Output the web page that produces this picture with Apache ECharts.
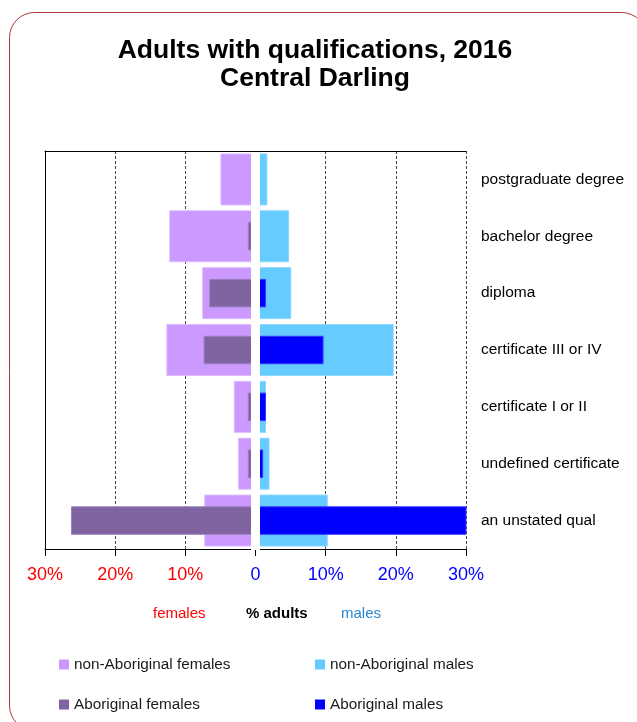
<!DOCTYPE html>
<html>
<head>
<meta charset="utf-8">
<title>Adults with qualifications, 2016 - Central Darling</title>
<script src="https://cdn.jsdelivr.net/npm/echarts@6/dist/echarts.min.js"></script>
<style>
  html, body { margin: 0; padding: 0; background: #ffffff; }
  #chart { width: 637px; height: 722px; }
</style>
</head>
<body>
<div id="chart"></div>
<script>
// Qualification levels, top to bottom
const categories = [
  'postgraduate degree',
  'bachelor degree',
  'diploma',
  'certificate III or IV',
  'certificate I or II',
  'undefined certificate',
  'an unstated qual'
];

// Percent of adults in each group
const nonAboriginalFemales = [5.0, 12.3, 7.6, 12.7, 3.1, 2.5, 7.3];
const aboriginalFemales    = [0.0, 1.1, 6.6, 7.4, 1.1, 1.1, 26.3];
const nonAboriginalMales   = [1.7, 4.8, 5.1, 19.7, 1.5, 2.0, 10.3];
const aboriginalMales      = [0.0, 0.0, 1.5, 9.7, 1.5, 1.1, 30.2];

// Percent scale on the shared axis (females to the left)
const axisMin = -30;
const axisMax = 30;
const axisStep = 10;

const FONT = '"Liberation Sans", Arial, sans-serif';

const chart = echarts.init(document.getElementById('chart'), null, { renderer: 'canvas' });

const neg = arr => arr.map(v => -v);

const GRID = { left: 45, right: 171, top: 151, bottom: 173, containLabel: false, outerBoundsMode: 'none' };

const option = {
  backgroundColor: '#ffffff',
  animation: false,
  title: {
    text: 'Adults with qualifications, 2016\nCentral Darling',
    left: 310,
    top: 31,
    textAlign: 'center',
    textStyle: {
      fontFamily: FONT,
      fontSize: 26.5,
      fontWeight: 'bold',
      color: '#000000',
      lineHeight: 28.5
    }
  },
  legend: [
    { data: ['non-Aboriginal females'], left: 59, top: 657 },
    { data: ['non-Aboriginal males'], left: 315, top: 657 },
    { data: ['Aboriginal females'], left: 59, top: 697 },
    { data: ['Aboriginal males'], left: 315, top: 697 }
  ].map(l => Object.assign({
    orient: 'horizontal',
    icon: 'rect',
    itemWidth: 10,
    itemHeight: 10,
    padding: 0,
    selectedMode: false,
    itemStyle: { borderWidth: 0 },
    textStyle: { fontFamily: FONT, fontSize: 15.3, color: '#1a1a1a' }
  }, l)),
  grid: GRID,
  xAxis: [
    {
      type: 'value',
      position: 'bottom',
      min: axisMin,
      max: axisMax,
      interval: axisStep,
      axisLine: { show: true, onZero: false, lineStyle: { color: '#000000', width: 1 } },
      axisTick: { show: true, length: 7, lineStyle: { color: '#000000' } },
      splitLine: { show: true, lineStyle: { color: '#4a4a4a', type: [3, 2], width: 1 } },
      axisLabel: {
        margin: 17,
        fontFamily: FONT,
        fontSize: 18,
        formatter: v => (v === 0 ? '0' : Math.abs(v) + '%'),
        color: v => (Number(v) < 0 ? '#ff0000' : '#0000ff')
      }
    },
    {
      type: 'value',
      position: 'top',
      min: axisMin,
      max: axisMax,
      interval: axisStep,
      axisLine: { show: true, onZero: false, lineStyle: { color: '#000000', width: 1 } },
      axisTick: { show: false },
      axisLabel: { show: false },
      splitLine: { show: false }
    }
  ],
  yAxis: [
    {
      type: 'category',
      data: categories,
      inverse: true,
      position: 'left',
      axisLine: { show: true, onZero: false, lineStyle: { color: '#000000', width: 1 } },
      axisTick: { show: false },
      axisLabel: { show: false },
      splitLine: { show: false }
    },
    {
      type: 'category',
      data: categories,
      inverse: true,
      position: 'right',
      axisLine: { show: false, onZero: false },
      axisTick: { show: false },
      splitLine: { show: false },
      axisLabel: {
        margin: 15,
        align: 'left',
        padding: [8, 0, 0, 0],
        fontFamily: FONT,
        fontSize: 15.5,
        color: '#000000'
      }
    }
  ],
  series: [
    {
      name: 'non-Aboriginal females',
      type: 'bar',
      xAxisIndex: 0,
      yAxisIndex: 0,
      barWidth: 52,
      barGap: '-100%',
      data: neg(nonAboriginalFemales),
      itemStyle: { color: '#cc99ff', borderColor: '#dcbcff', borderWidth: 1 }
    },
    {
      name: 'non-Aboriginal males',
      type: 'bar',
      xAxisIndex: 0,
      yAxisIndex: 0,
      barWidth: 52,
      barGap: '-100%',
      data: nonAboriginalMales,
      itemStyle: { color: '#66ccff', borderColor: '#8cd8ff', borderWidth: 1 }
    },
    {
      name: 'Aboriginal females',
      type: 'bar',
      xAxisIndex: 0,
      yAxisIndex: 1,
      barWidth: 28.5,
      barGap: '-100%',
      data: neg(aboriginalFemales),
      itemStyle: { color: '#8064a2', borderColor: '#9a80bc', borderWidth: 1 }
    },
    {
      name: 'Aboriginal males',
      type: 'bar',
      xAxisIndex: 0,
      yAxisIndex: 1,
      barWidth: 28.5,
      barGap: '-100%',
      data: aboriginalMales,
      itemStyle: { color: '#0000ff', borderColor: '#3a3aff', borderWidth: 1 }
    }
  ],
  graphic: [
    // white separator band between the female and male halves
    {
      type: 'rect',
      z: 100,
      shape: { x: 251, y: 152, width: 9, height: 398 },
      style: { fill: '#ffffff' }
    },
    // axis captions under the tick labels
    {
      type: 'text', z: 100, left: 153, top: 606,
      style: { text: 'females', fill: '#ff0000', font: '15px ' + FONT, textAlign: 'center' }
    },
    {
      type: 'text', z: 100, left: 246, top: 606,
      style: { text: '% adults', fill: '#000000', font: 'bold 15px ' + FONT, textAlign: 'center' }
    },
    {
      type: 'text', z: 100, left: 341, top: 606,
      style: { text: 'males', fill: '#2b87cc', font: '15px ' + FONT, textAlign: 'center' }
    },
    // rounded outer frame
    {
      type: 'rect',
      z: 0,
      shape: { x: 9.5, y: 12.5, width: 637, height: 718, r: 25 },
      style: { fill: null, stroke: '#a8383a', lineWidth: 1 }
    }
  ]
};

chart.setOption(option);
</script>
</body>
</html>
